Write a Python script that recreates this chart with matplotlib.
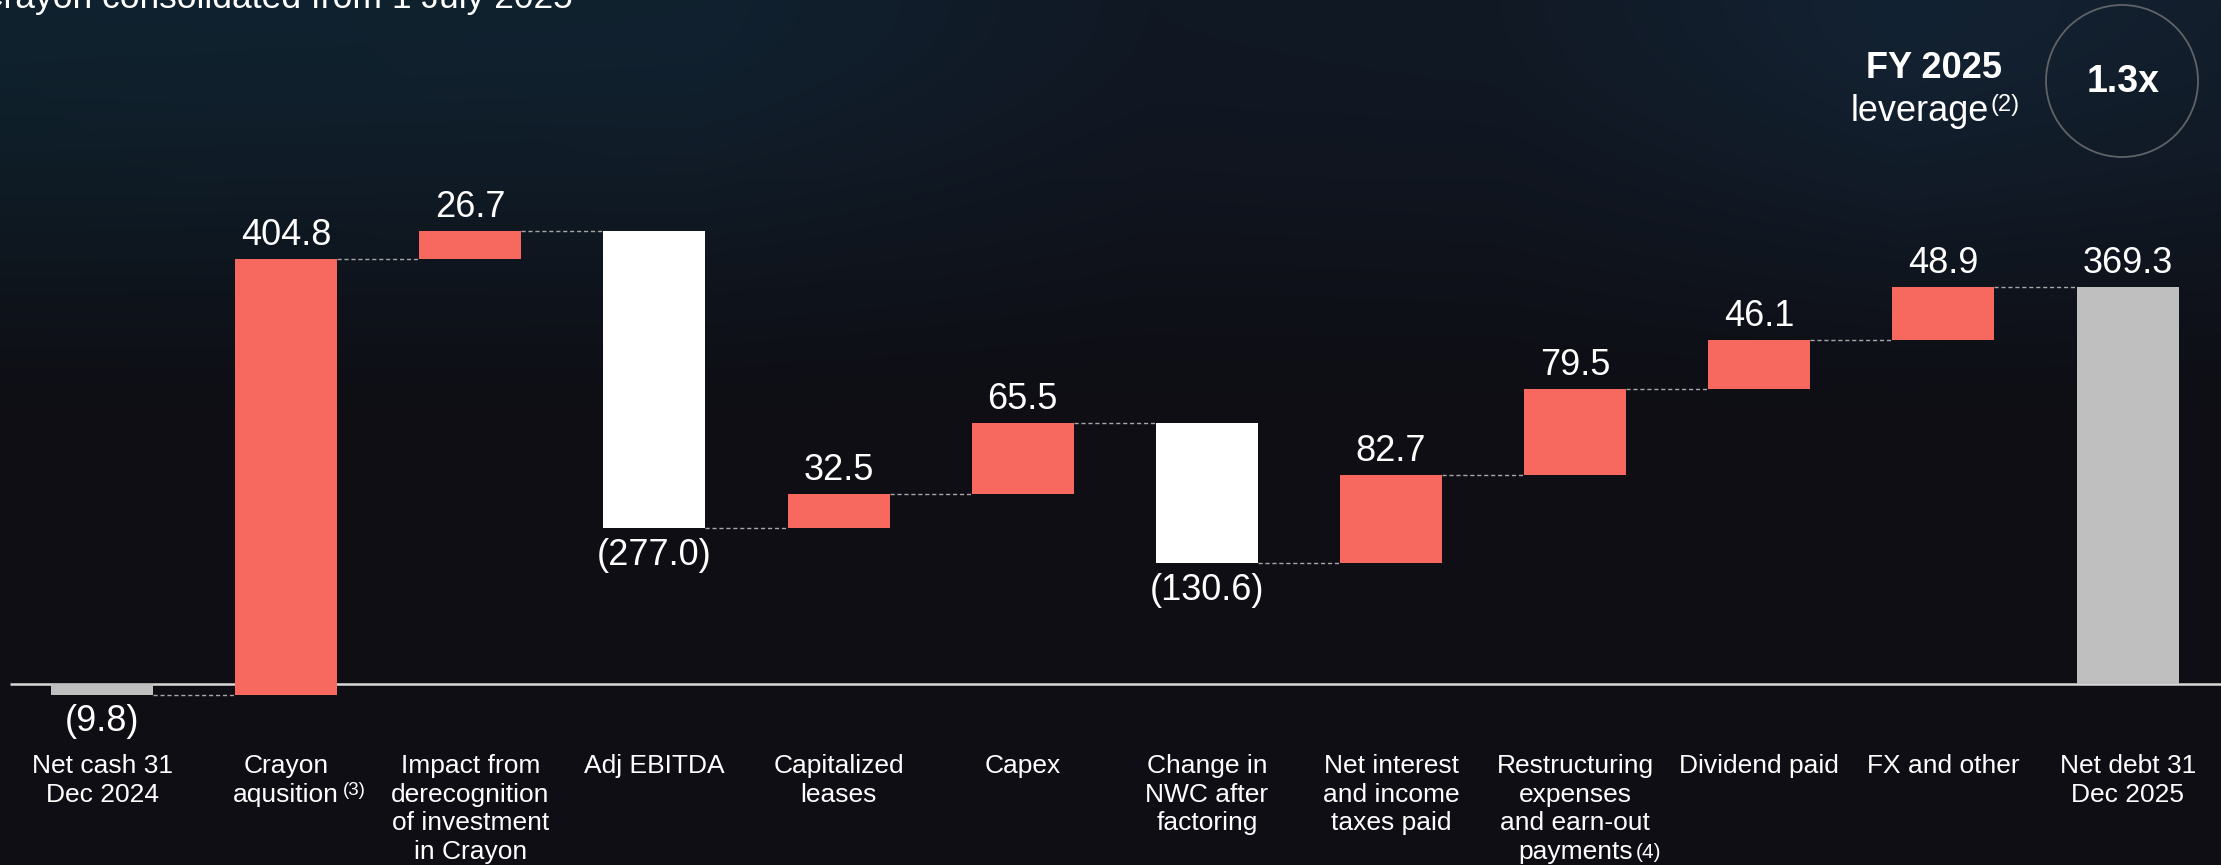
import numpy as np
import matplotlib.pyplot as plt
from matplotlib.patches import Circle
from matplotlib.transforms import blended_transform_factory

plt.rcParams['font.family'] = ['Liberation Sans', 'DejaVu Sans']

categories = ["Net cash 31\nDec 2024", "Crayon\naqusition",
              "Impact from\nderecognition\nof investment\nin Crayon",
              "Adj EBITDA", "Capitalized\nleases", "Capex",
              "Change in\nNWC after\nfactoring",
              "Net interest\nand income\ntaxes paid",
              "Restructuring\nexpenses\nand earn-out\npayments",
              "Dividend paid", "FX and other", "Net debt 31\nDec 2025"]
start_value = -9.8
steps = [404.8, 26.7, -277.0, 32.5, 65.5, -130.6, 82.7, 79.5, 46.1, 48.9]
end_value = 369.3
# footnote markers: (category index, text, superscript?)
footnotes = [(1, "(3)", True), (8, "(4)", False)]

RED = '#F7695F'
GREY = '#BFBFBF'
WHITE = '#FFFFFF'
W, H = 2221, 865

fig = plt.figure(figsize=(W / 100, H / 100), dpi=100)

# background: navy at the top fading to near black
bg = fig.add_axes([0, 0, 1, 1], zorder=0)
yy, xx = np.mgrid[0:H, 0:W]
stops_x = [0, 700, 1150, 1500, 1900, 2221]
stops_c = np.array([[15, 34, 46], [17, 33, 47], [17, 24, 36],
                    [17, 25, 37], [19, 34, 50], [18, 30, 44]]) / 255
top = np.stack([np.interp(np.arange(W), stops_x, stops_c[:, c])
                for c in range(3)], axis=-1)
bottom = np.array([14, 14, 20]) / 255
t = np.clip(yy / 460.0, 0, 1)
t = t * t * (3 - 2 * t)
img = top[None, :, :] * (1 - t[..., None]) + bottom[None, None, :] * t[..., None]
bg.imshow(img, aspect='auto', extent=[0, W, H, 0])
bg.set_axis_off()

ax = fig.add_axes([0, 0, 1, 1], zorder=1)
ax.patch.set_visible(False)
ax.set_xlim(-0.554, 11.507)
ax.set_ylim(-168.4, 636.3)
ax.set_axis_off()

n = len(categories)
x = np.arange(n)
bw = 0.554

# bar geometry
bottoms = [0.0]
heights = [start_value]
colors = [GREY]
values = [start_value]
level = start_value
levels = [level]
for s in steps:
    bottoms.append(level)
    heights.append(s)
    colors.append(RED if s > 0 else WHITE)
    values.append(s)
    level += s
    levels.append(level)
bottoms.append(0.0)
heights.append(end_value)
colors.append(GREY)
values.append(end_value)

ax.plot([-0.50, 11.507], [0, 0], color='#D9D9D9', lw=1.8, zorder=1,
        solid_capstyle='butt')
ax.bar(x, heights, bottom=bottoms, width=bw, color=colors, zorder=3)

# connectors
for i in range(n - 1):
    ax.plot([x[i] + bw / 2, x[i + 1] - bw / 2], [levels[i], levels[i]],
            color='#A6A6A6', lw=1.0, ls=(0, (3, 2)), zorder=2)

# value labels
for i, v in enumerate(values):
    txt = "({:.1f})".format(abs(v)) if v < 0 else "{:.1f}".format(v)
    yv = bottoms[i] + heights[i]
    off = 10 if v >= 0 else -26.6
    ax.annotate(txt, (x[i], yv), xytext=(0, off), textcoords='offset points',
                ha='center', va='baseline', fontsize=26, color='white',
                zorder=4)

# category labels, one text per line
tr = blended_transform_factory(ax.transData, fig.transFigure)
for i, lab in enumerate(categories):
    for k, line in enumerate(lab.split('\n')):
        yb = 773.3 + 28.5 * k
        ax.text(x[i], 1 - yb / H, line, transform=tr, ha='center',
                va='baseline', fontsize=19, color='white')

for i, note, sup in footnotes:
    nlines = len(categories[i].split('\n'))
    yb = 773.3 + 28.5 * (nlines - 1)
    if sup:
        ax.text(x[i] + 0.31, 1 - (yb - 7) / H, note, transform=tr,
                ha='left', va='baseline', fontsize=13.5, color='white')
    else:
        ax.text(x[i] + 0.33, 1 - (yb - 1) / H, note, transform=tr,
                ha='left', va='baseline', fontsize=15, color='white')

# heading, partly cut at the top edge
fig.text(-22.5 / W, 1 - 8 / H, "Crayon consolidated from 1 July 2025",
         fontsize=25.5, color='white', ha='left', va='baseline')

# leverage badge
fig.text(1934 / W, 1 - 78 / H, "FY 2025", fontsize=26, fontweight='bold',
         color='white', ha='center', va='baseline')
fig.text(1989 / W, 1 - 121 / H, "leverage", fontsize=26, color='white',
         ha='right', va='baseline')
fig.text(1990 / W, 1 - 111 / H, "(2)", fontsize=17, color='white',
         ha='left', va='baseline')
circ = Circle((21.22, (H - 81) / 100), 0.76, transform=fig.dpi_scale_trans,
              fill=False, ec='#5F6368', lw=1.3)
fig.patches.append(circ)
fig.text(2123 / W, 1 - 92 / H, "1.3x", fontsize=27, fontweight='bold',
         color='white', ha='center', va='baseline')

fig.savefig('out.png', dpi=100)
